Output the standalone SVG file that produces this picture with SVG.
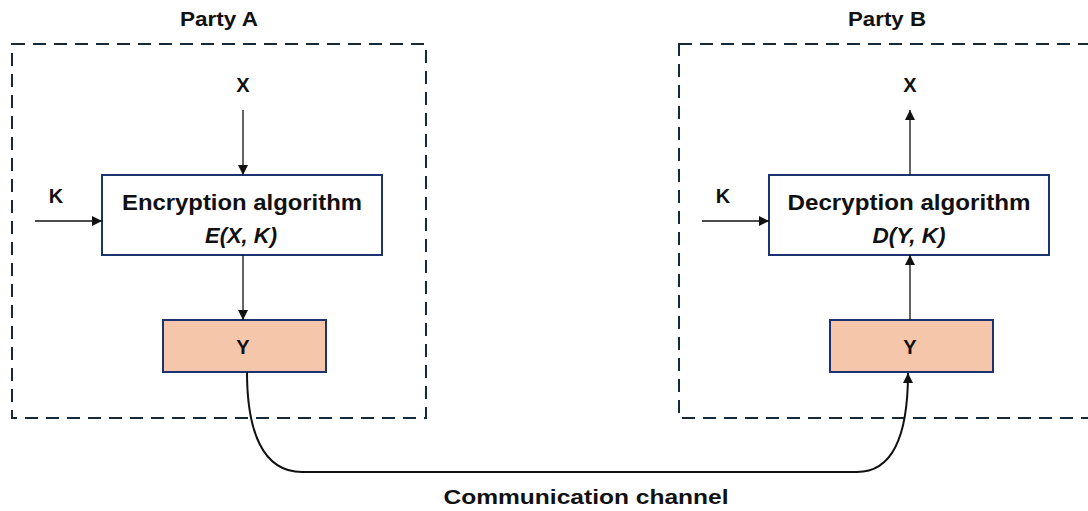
<svg xmlns="http://www.w3.org/2000/svg" width="1088" height="511" viewBox="0 0 1088 511">
<style>
text{font-family:"Liberation Sans",Arial,sans-serif;font-weight:bold;fill:#111;text-anchor:middle}
.party{fill:none;stroke:#16293a;stroke-width:2;stroke-dasharray:13 8}
.box{fill:#fff;stroke:#1b3370;stroke-width:2}
.ybox{fill:#f5c6aa;stroke:#1b3370;stroke-width:2}
.conn{fill:none;stroke:#111;stroke-width:1.3}
.curve{fill:none;stroke:#111;stroke-width:2}
</style>
<defs>
<marker id="ah" viewBox="0 0 10 10" refX="10" refY="5" markerWidth="10" markerHeight="10" markerUnits="userSpaceOnUse" orient="auto">
<path d="M0,0 L10,5 L0,10 z" fill="#111"/>
</marker>
</defs>
<rect width="1088" height="511" fill="#fff"/>
<g id="partyA">
<rect class="party" x="12" y="44" width="414" height="374"/>
<text x="219" y="26" font-size="21" textLength="78" lengthAdjust="spacingAndGlyphs">Party A</text>
</g>
<g id="partyB">
<rect class="party" x="679" y="44" width="430" height="374"/>
<text x="887" y="26" font-size="21" textLength="78" lengthAdjust="spacingAndGlyphs">Party B</text>
</g>
<g id="xA"><text x="243" y="92" font-size="20">X</text></g>
<g id="kA"><text x="56" y="203" font-size="20">K</text></g>
<g id="enc">
<rect class="box" x="102" y="175" width="280" height="80"/>
<text x="242" y="210" font-size="22" textLength="240" lengthAdjust="spacingAndGlyphs">Encryption algorithm</text>
<text x="241" y="243" font-size="22" font-style="italic" textLength="72" lengthAdjust="spacingAndGlyphs">E(X, K)</text>
</g>
<g id="yA">
<rect class="ybox" x="163" y="320" width="163" height="52"/>
<text x="243" y="354" font-size="20">Y</text>
</g>
<g id="xB"><text x="910" y="92" font-size="20">X</text></g>
<g id="kB"><text x="723" y="203" font-size="20">K</text></g>
<g id="dec">
<rect class="box" x="769" y="175" width="280" height="80"/>
<text x="909" y="210" font-size="22" textLength="243" lengthAdjust="spacingAndGlyphs">Decryption algorithm</text>
<text x="909" y="243" font-size="22" font-style="italic" textLength="73" lengthAdjust="spacingAndGlyphs">D(Y, K)</text>
</g>
<g id="yB">
<rect class="ybox" x="830" y="320" width="163" height="52"/>
<text x="910" y="354" font-size="20">Y</text>
</g>
<g id="channel"><text x="586" y="504" font-size="21" textLength="285" lengthAdjust="spacingAndGlyphs">Communication channel</text></g>
<g id="connectors">
<line class="conn" x1="243" y1="110" x2="243" y2="175" marker-end="url(#ah)"/>
<line class="conn" x1="35" y1="221" x2="102" y2="221" marker-end="url(#ah)"/>
<line class="conn" x1="243" y1="255" x2="243" y2="320" marker-end="url(#ah)"/>
<line class="conn" x1="910" y1="175" x2="910" y2="110" marker-end="url(#ah)"/>
<line class="conn" x1="702" y1="221" x2="769" y2="221" marker-end="url(#ah)"/>
<line class="conn" x1="910" y1="320" x2="910" y2="255" marker-end="url(#ah)"/>
<path class="curve" d="M247,372 C247,430 262,472 302,472 L857,472 C895,472 908,430 908,373" marker-end="url(#ah)"/>
</g>
</svg>
